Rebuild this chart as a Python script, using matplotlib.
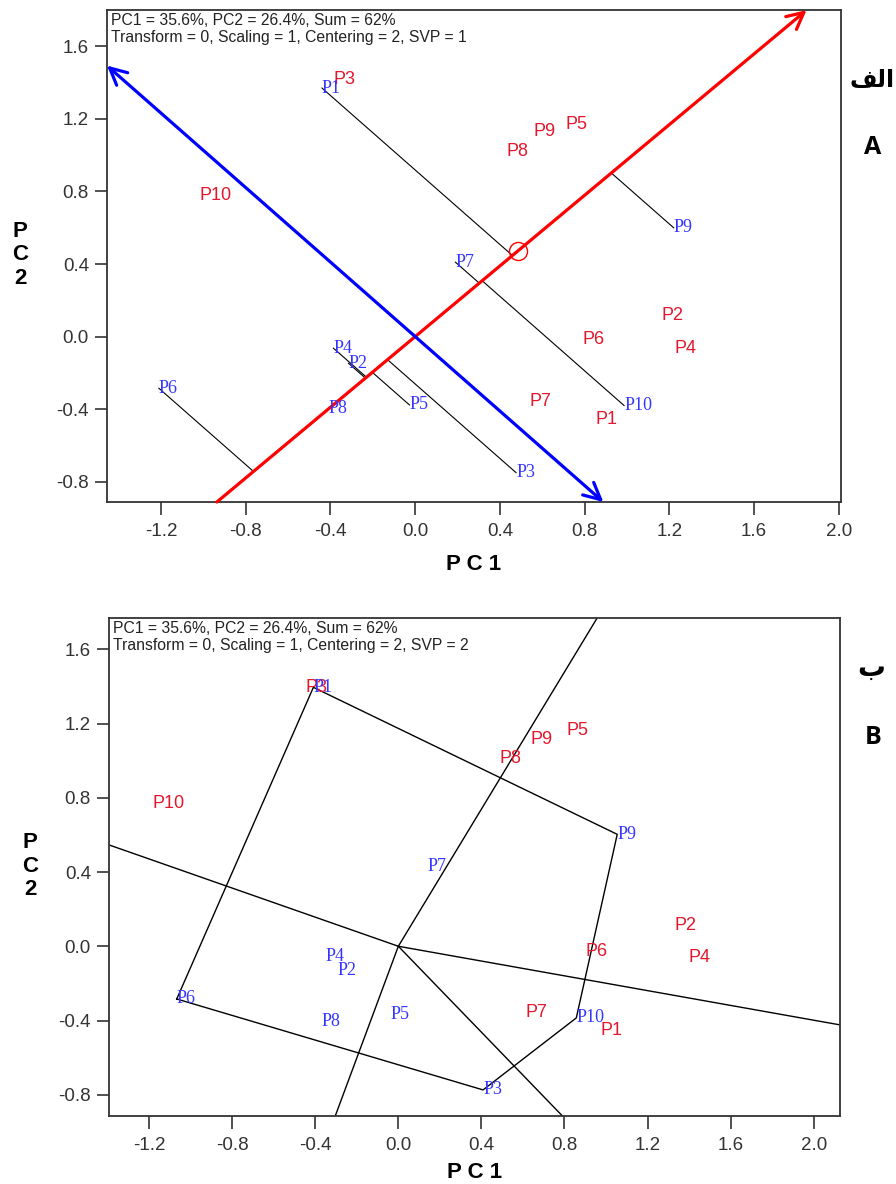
import numpy as np
import matplotlib
matplotlib.use('Agg')
from matplotlib import pyplot as plt

# nombres de los puntos (azul = genotipos, rojo = ambientes)
nombres = ['P1', 'P2', 'P3', 'P4', 'P5', 'P6', 'P7', 'P8', 'P9', 'P10']

# panel A (SVP = 1)
gen_x_a = [-0.44, -0.315, 0.476, -0.386, -0.027, -1.21, 0.19, -0.41, 1.22, 0.986]
gen_y_a = [1.37, -0.147, -0.75, -0.064, -0.377, -0.285, 0.41, -0.395, 0.60, -0.38]
amb_x_a = [0.853, 1.163, -0.387, 1.223, 0.71, 0.79, 0.539, 0.431, 0.557, -1.02]
amb_y_a = [-0.456, 0.114, 1.416, -0.064, 1.17, -0.018, -0.359, 1.02, 1.13, 0.78]

# panel B (SVP = 2)
gen_x_b = [-0.409, -0.294, 0.408, -0.353, -0.037, -1.067, 0.142, -0.369, 1.054, 0.857]
gen_y_b = [1.395, -0.131, -0.774, -0.056, -0.37, -0.284, 0.429, -0.406, 0.603, -0.386]
amb_x_b = [0.973, 1.331, -0.449, 1.395, 0.809, 0.902, 0.611, 0.488, 0.637, -1.183]
amb_y_b = [-0.455, 0.111, 1.395, -0.063, 1.165, -0.027, -0.356, 1.009, 1.115, 0.767]

encabezado_a = 'PC1 = 35.6%, PC2 = 26.4%, Sum = 62%\nTransform = 0, Scaling = 1, Centering = 2, SVP = 1'
encabezado_b = 'PC1 = 35.6%, PC2 = 26.4%, Sum = 62%\nTransform = 0, Scaling = 1, Centering = 2, SVP = 2'

xlim_a = (-1.455, 2.01)
ylim_a = (-0.912, 1.80)
xlim_b = (-1.393, 2.128)
ylim_b = (-0.916, 1.767)

ROJO = '#e3182d'
AZUL = '#3535ff'
SANS = 'Liberation Sans'
SERIF = 'Liberation Serif'


def salida(d, xlim, ylim):
    # punto donde un rayo desde el origen sale del recuadro
    ts = []
    ts.append((xlim[1] if d[0] > 0 else xlim[0]) / d[0])
    ts.append((ylim[1] if d[1] > 0 else ylim[0]) / d[1])
    t = min(ts)
    return np.array(d) * t


def casco(px, py):
    pts = sorted(zip(px, py))
    def cruz(o, a, b):
        return (a[0]-o[0])*(b[1]-o[1]) - (a[1]-o[1])*(b[0]-o[0])
    inf, sup = [], []
    for p in pts:
        while len(inf) >= 2 and cruz(inf[-2], inf[-1], p) <= 0:
            inf.pop()
        inf.append(p)
    for p in reversed(pts):
        while len(sup) >= 2 and cruz(sup[-2], sup[-1], p) <= 0:
            sup.pop()
        sup.append(p)
    return inf[:-1] + sup[:-1]


def estilo(ax, xlim, ylim, encabezado):
    ax.set_xlim(xlim)
    ax.set_ylim(ylim)
    ax.set_xticks(np.arange(-1.2, 2.01, 0.4))
    ax.set_yticks(np.arange(-0.8, 1.61, 0.4))
    ax.xaxis.set_major_formatter(matplotlib.ticker.FormatStrFormatter('%.1f'))
    ax.yaxis.set_major_formatter(matplotlib.ticker.FormatStrFormatter('%.1f'))
    ax.tick_params(direction='out', length=9, width=1.2, colors='#333333',
                   labelsize=13.5, pad=6)
    ax.tick_params(axis='y', pad=4)
    for lab in ax.get_xticklabels() + ax.get_yticklabels():
        lab.set_family(SANS)
    for s in ax.spines.values():
        s.set_color('#333333')
        s.set_linewidth(1.3)
    ax.text(0.006, 0.995, encabezado, transform=ax.transAxes, ha='left', va='top',
            fontsize=11.3, family=SANS, color='#222222', linespacing=1.2)


def etiquetas(ax, gx, gy, ex, ey):
    for n, x, y in zip(nombres, ex, ey):
        ax.text(x, y, n, color=ROJO, fontsize=13, family=SANS, ha='left', va='center')
    for n, x, y in zip(nombres, gx, gy):
        ax.text(x, y, n, color=AZUL, fontsize=13, family=SERIF, ha='left', va='center')


fig = plt.figure(figsize=(8.96, 11.84), dpi=100)

# ---------- panel A ----------
ax1 = fig.add_axes([0.1194, 0.576, 0.8192, 0.4155])
estilo(ax1, xlim_a, ylim_a, encabezado_a)

media = np.array([np.mean(amb_x_a), np.mean(amb_y_a)])
u = media / np.linalg.norm(media)
perp = np.array([-u[1], u[0]])

# proyecciones de los genotipos sobre el eje del ambiente medio
for x, y in zip(gen_x_a, gen_y_a):
    g = np.array([x, y])
    pie = np.dot(g, u) * u
    ax1.plot([x, pie[0]], [y, pie[1]], color='black', lw=0.8, zorder=2)

r1 = salida(u, xlim_a, ylim_a)
r0 = salida(-u, xlim_a, ylim_a)
ax1.annotate('', xy=r1, xytext=r0,
             arrowprops=dict(arrowstyle='->', color='red', lw=2.3, mutation_scale=30,
                             shrinkA=0, shrinkB=0), zorder=3)
b1 = salida(perp, xlim_a, ylim_a)
b0 = salida(-perp, xlim_a, ylim_a)
ax1.annotate('', xy=b1, xytext=b0,
             arrowprops=dict(arrowstyle='<->', color='blue', lw=2.3, mutation_scale=30,
                             shrinkA=0, shrinkB=0), zorder=3)
ax1.plot(media[0], media[1], 'o', mfc='none', mec='red', ms=13, mew=1, zorder=4)

etiquetas(ax1, gen_x_a, gen_y_a, amb_x_a, amb_y_a)

# ---------- panel B ----------
ax2 = fig.add_axes([0.1217, 0.0572, 0.8161, 0.4206])
estilo(ax2, xlim_b, ylim_b, encabezado_b)

vert = casco(gen_x_b, gen_y_b)
poli = vert + [vert[0]]
ax2.plot([p[0] for p in poli], [p[1] for p in poli], color='black', lw=1, zorder=2)
for a, b in zip(vert, vert[1:] + vert[:1]):
    d = np.array(b) - np.array(a)
    n = np.array([-d[1], d[0]])
    if np.dot(n, a) < 0:
        n = -n
    fin = salida(n, xlim_b, ylim_b)
    ax2.plot([0, fin[0]], [0, fin[1]], color='black', lw=1, zorder=2)

etiquetas(ax2, gen_x_b, gen_y_b, amb_x_b, amb_y_b)

# ---------- textos de ejes y paneles ----------
fig.text(474/896, 1-565/1184, 'P C 1', ha='center', va='center', fontsize=16,
         fontweight='bold', family=SANS)
fig.text(20/896, 1-255/1184, 'P\nC\n2', ha='center', va='center', fontsize=16,
         fontweight='bold', family=SANS, linespacing=1.15)
fig.text(475/896, 1-1172/1184, 'P C 1', ha='center', va='center', fontsize=16,
         fontweight='bold', family=SANS)
fig.text(30/896, 1-866/1184, 'P\nC\n2', ha='center', va='center', fontsize=16,
         fontweight='bold', family=SANS, linespacing=1.15)

# letras de los paneles (arabe en formas de presentacion para que se unan)
fig.text(872/896, 1-80/1184, '\ufed2\ufedf\ufe8d', ha='center', va='center', fontsize=17,
         fontweight='bold', family='DejaVu Sans')
fig.text(873/896, 1-148/1184, 'A', ha='center', va='center', fontsize=18,
         fontweight='bold', family='Open Sans')
fig.text(871/896, 1-668/1184, '\u0628', ha='center', va='center', fontsize=20,
         fontweight='bold', family='DejaVu Sans')
fig.text(873/896, 1-738/1184, 'B', ha='center', va='center', fontsize=18,
         fontweight='bold', family='Open Sans')

fig.savefig('out.png', dpi=100)
